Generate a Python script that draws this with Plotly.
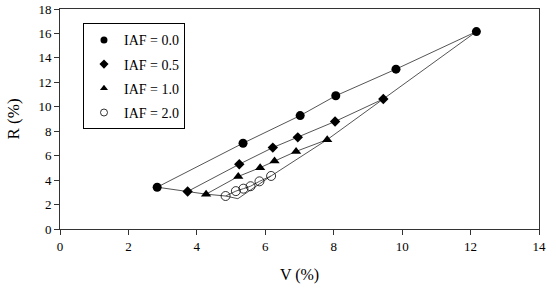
import plotly.graph_objects as go

# Data
v_iaf00 = [2.84, 5.35, 7.02, 8.06, 9.82, 12.17]
r_iaf00 = [3.42, 7.02, 9.28, 10.90, 13.08, 16.15]

v_iaf05 = [3.73, 5.24, 6.22, 6.95, 8.04, 9.45]
r_iaf05 = [3.07, 5.30, 6.66, 7.50, 8.80, 10.64]

v_iaf10 = [4.27, 5.21, 5.85, 6.27, 6.90, 7.81]
r_iaf10 = [2.85, 4.30, 5.02, 5.56, 6.35, 7.31]

v_iaf20 = [4.84, 5.14, 5.36, 5.57, 5.83, 6.17]
r_iaf20 = [2.70, 3.10, 3.30, 3.50, 3.90, 4.34]

# vertex where the two envelope lines meet
v_vertex = [5.20]
r_vertex = [2.48]

series = [
    ("IAF = 0.0", v_iaf00, r_iaf00, dict(symbol="circle", size=9, color="black")),
    ("IAF = 0.5", v_iaf05, r_iaf05, dict(symbol="diamond", size=8, color="black")),
    ("IAF = 1.0", v_iaf10, r_iaf10, dict(symbol="triangle-up", size=9, color="black")),
    ("IAF = 2.0", v_iaf20, r_iaf20, dict(symbol="circle-open", size=9, color="black",
                                         line=dict(width=0.8))),
]

LINE = dict(color="#555555", width=1)
FONT = "Liberation Serif, Times New Roman, serif"

fig = go.Figure()

# envelope lines (lower: first points of each series; upper-right: last points)
all_series = [(v, r) for _, v, r, _ in series]
env_x = [v[0] for v, r in all_series] + v_vertex + [v[-1] for v, r in reversed(all_series)]
env_y = [r[0] for v, r in all_series] + r_vertex + [r[-1] for v, r in reversed(all_series)]
fig.add_trace(go.Scatter(x=env_x, y=env_y, mode="lines", line=LINE,
                         showlegend=False, hoverinfo="skip"))

for name, v, r, mk in series:
    fig.add_trace(go.Scatter(x=v, y=r, mode="lines+markers", name=name,
                             line=LINE, marker=mk, showlegend=False))

# legend entries: markers only
for name, v, r, mk in series:
    lm = dict(mk)
    lm["size"] = 7
    fig.add_trace(go.Scatter(x=[None], y=[None], mode="markers", name=name,
                             legendgroup=name, marker=lm, showlegend=True))

fig.update_layout(
    width=556, height=292,
    margin=dict(l=60, r=17, t=9, b=63, autoexpand=False),
    paper_bgcolor="white", plot_bgcolor="white",
    font=dict(family=FONT, size=13, color="black"),
    showlegend=True,
    legend=dict(x=0.048, y=0.935, xanchor="left", yanchor="top",
                bordercolor="black", borderwidth=1, bgcolor="white",
                font=dict(family=FONT, size=14), itemsizing="trace",
                tracegroupgap=3, itemwidth=30),
    xaxis=dict(range=[0, 14], dtick=2, showgrid=False, zeroline=False,
               showline=True, linecolor="#333333", linewidth=1, mirror=True,
               ticks="outside", ticklen=5, tickcolor="#333333", automargin=False,
               tickfont=dict(family=FONT, size=13, color="black"),
               title=dict(text="V (%)", font=dict(family=FONT, size=16, color="black"),
                          standoff=16)),
    yaxis=dict(range=[0, 18], dtick=2, showgrid=False, zeroline=False,
               showline=True, linecolor="#333333", linewidth=1, mirror=True,
               ticks="outside", ticklen=5, tickcolor="#333333", automargin=False,
               tickfont=dict(family=FONT, size=13, color="black"),
               title=dict(text="R (%)", font=dict(family=FONT, size=17, color="black"),
                          standoff=14)),
)

fig.write_html(
    "out.html",
    config={"displayModeBar": False},
    post_script="document.body.style.margin='0';document.body.style.overflow='hidden';",
)
